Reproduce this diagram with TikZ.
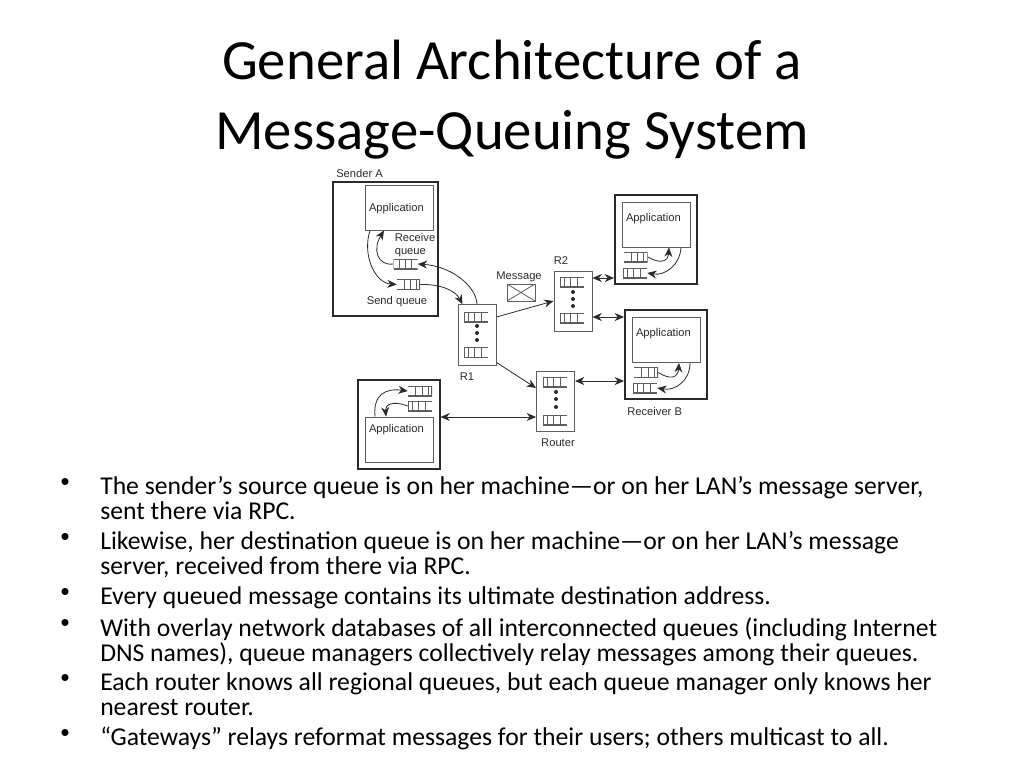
\documentclass[tikz,border=0pt]{standalone}
\usepackage{fontspec}
\setmainfont{Carlito}
\newfontfamily\figfont{Liberation Sans}
\usepackage{xcolor}
\usetikzlibrary{positioning,arrows.meta}
\definecolor{figink}{HTML}{2A2A2A}
\definecolor{figline}{HTML}{5E5E5E}

\begin{document}
\begin{tikzpicture}[
  x=0.75pt, y=-0.75pt,
  lbl/.style={inner sep=0pt, font=\figfont\fontsize{8.4}{9.6}\selectfont, text=figink, align=center},
  host/.style={draw=figink, line width=1.5pt, inner sep=0pt, minimum width=61.5pt, minimum height=66.75pt},
  app/.style={lbl, draw=figline, line width=0.75pt, inner xsep=3pt, inner ysep=0pt, text width=45pt, align=left,
              text height=14.25pt, text depth=19.5pt},
  router/.style={draw=figline, line width=0.75pt, inner sep=0pt, minimum width=28.5pt, minimum height=45.5pt},
  queue/.style 2 args={inner sep=0pt, minimum width=18pt, minimum height=7.5pt,
    path picture={
      \draw[figline, line width=1.1pt] (path picture bounding box.north west) -- (path picture bounding box.north east)
        (path picture bounding box.south west) -- (path picture bounding box.south east)
        (path picture bounding box.north #1) -- (path picture bounding box.south #1);
      \foreach \s in {-4.75pt,0pt,4.75pt}
        \draw[figline, line width=0.6pt] ([xshift=\s+#2]path picture bounding box.north) -- ([xshift=\s+#2]path picture bounding box.south);
    }},
  qleft/.style={queue={west}{-1pt}},
  qright/.style={queue={east}{1.5pt}},
  dot/.style={circle, fill=figink, inner sep=0pt, minimum size=3pt},
  envelope/.style={draw=figline, line width=0.7pt, inner sep=0pt, minimum width=21pt, minimum height=12.75pt,
    path picture={\draw[figline, line width=0.6pt] (path picture bounding box.north west) -- (path picture bounding box.south east)
      (path picture bounding box.south west) -- (path picture bounding box.north east);}},
  arr/.style={-{Stealth[length=7pt, width=6pt]}, draw=figink, line width=0.6pt},
  biarr/.style={{Stealth[length=7pt, width=6pt]}-{Stealth[length=7pt, width=6pt]}, draw=figink, line width=0.6pt},
  item/.style={anchor=north west, inner sep=0pt, align=left, text=black,
               font=\fontsize{19.25}{18.75}\selectfont},
  bull/.style={inner sep=0pt, text=black, font=\figfont\fontsize{19.25}{18.75}\selectfont}]
\useasboundingbox (0,0) rectangle (1024,768);

\node[align=center, inner sep=0pt, font=\fontsize{42.6}{52.5}\selectfont] (title) at (512,100) {General Architecture of a\\Message-Queuing System};

% sender
\node[host, minimum width=78.75pt, minimum height=100.5pt] (sender) at (385.5,249) {};
\node[lbl, above=2.25pt of sender.north west, anchor=south west, xshift=3pt] (senderlbl) {Sender A};
\node[app, text height=19.5pt, text depth=14.25pt] (sapp) at (399,207.5) {Application};
\node[qleft, minimum width=14.25pt, queue={west}{0pt}] (recvq) at (405.5,264) {};
\node[qright, minimum width=17.25pt] (sendq) at (408.5,284.5) {};
\node[lbl, align=left] (recvlbl) at (415,245) {Receive\\queue};
\node[lbl] (sendlbl) at (397,301.5) {Send queue};

% routers
\node[router] (r1) at (477,335) {};
\node[qleft] (r1a) at (476,317) {};
\node[qleft] (r1b) at (476,352.5) {};
\node[dot] (r1x) at (477,326) {};
\node[dot] (r1y) at (477,333) {};
\node[dot] (r1z) at (477,340) {};
\node[lbl] (r1lbl) at (467,377) {R1};

\node[router] (r2) at (573,301.5) {};
\node[qleft] (r2a) at (572,282) {};
\node[qleft] (r2b) at (572,318) {};
\node[dot] (r2x) at (573,292) {};
\node[dot] (r2y) at (573,299) {};
\node[dot] (r2z) at (573,306) {};
\node[lbl] (r2lbl) at (561,261) {R2};

\node[router] (rt) at (555.5,401.5) {};
\node[qleft] (rta) at (555,382) {};
\node[qleft] (rtb) at (555,420) {};
\node[dot] (rtx) at (556,392) {};
\node[dot] (rty) at (556,399) {};
\node[dot] (rtz) at (556,407) {};
\node[lbl] (rtlbl) at (558,443) {Router};

\node[lbl] (msglbl) at (519,276.5) {Message};
\node[envelope] (msg) at (521,292.5) {};

% receivers
\node[host] (top) at (656,239.5) {};
\node[app] (topapp) at (656,224.5) {Application};
\node[qright] (topq) at (635.5,257) {};
\node[qleft] (topr) at (635,273) {};

\node[host] (recv) at (666,354.5) {};
\node[app] (recvapp) at (666,340) {Application};
\node[qright] (recva) at (646,372.5) {};
\node[qleft] (recvb) at (645,388) {};
\node[lbl, anchor=west] (recvname) at (627,411) {Receiver B};

\node[host] (low) at (398.5,424.5) {};
\node[app, text height=11.25pt, text depth=22.5pt] (lowapp) at (399,439.5) {Application};
\node[qright] (lowa) at (420,391) {};
\node[qleft] (lowb) at (420,406) {};

% links
\draw[arr] (sendq.east) .. controls (440,284) and (455,290) .. ([xshift=3.75pt]r1.north west);
\draw[arr] (r1.north) .. controls (476,285) and (450,266) .. (recvq.east);
\draw[arr] (recvq.west) .. controls (378,266) and (372,250) .. ([xshift=-11.25pt]sapp.south);
\draw[arr] ([xshift=-21.75pt]sapp.south) .. controls (362,255) and (375,283) .. (sendq.west);
\draw[arr] (r1.east |- r1a) -- (r2.west |- 0,301);
\draw[arr] ([yshift=-7.5pt]r1.east |- r1b) -- (rt.west |- 0,388);
\draw[biarr] (r2.east |- 0,278) -- (top.west |- 0,278);
\draw[biarr] (r2.east |- 0,317) -- (recv.west |- 0,317);
\draw[biarr] (rt.east |- 0,381) -- (recv.west |- 0,381);
\draw[biarr] (low.east |- 0,417) -- (rt.west |- 0,417);
\draw[arr] (topq.east) .. controls (660,264) and (668,262) .. ([xshift=9.75pt]topapp.south);
\draw[arr] ([xshift=18.75pt]topapp.south) .. controls (680,265) and (665,276) .. (topr.east);
\draw[arr] (recva.east) .. controls (670,380) and (678,378) .. ([xshift=9.75pt]recvapp.south);
\draw[arr] ([xshift=18pt]recvapp.south) .. controls (690,381) and (675,391) .. (recvb.east);
\draw[arr] ([xshift=-18pt]lowapp.north) .. controls (373,395) and (385,388) .. (lowa.west);
\draw[arr] (lowb.west) .. controls (392,400) and (385,405) .. ([xshift=-9.75pt]lowapp.north);

% bullets
\node[bull] (b1) at (65,484) {•};
\node[item] (i1) at (100,476) {The sender’s source queue is on her machine—or on her LAN’s message server,\\sent there via RPC.};
\node[bull] (b2) at (65,539) {•};
\node[item] (i2) at (100,531) {Likewise, her destination queue is on her machine—or on her LAN’s message\\server, received from there via RPC.};
\node[bull] (b3) at (65,594) {•};
\node[item] (i3) at (100,586) {Every queued message contains its ultimate destination address.};
\node[bull] (b4) at (65,625) {•};
\node[item] (i4) at (100,617) {With overlay network databases of all interconnected queues (including Internet\\DNS names), queue managers collectively relay messages among their queues.};
\node[bull] (b5) at (65,680) {•};
\node[item] (i5) at (100,672) {Each router knows all regional queues, but each queue manager only knows her\\nearest router.};
\node[bull] (b6) at (65,735) {•};
\node[item] (i6) at (100,727) {“Gateways” relays reformat messages for their users; others multicast to all.};
\end{tikzpicture}
\end{document}
